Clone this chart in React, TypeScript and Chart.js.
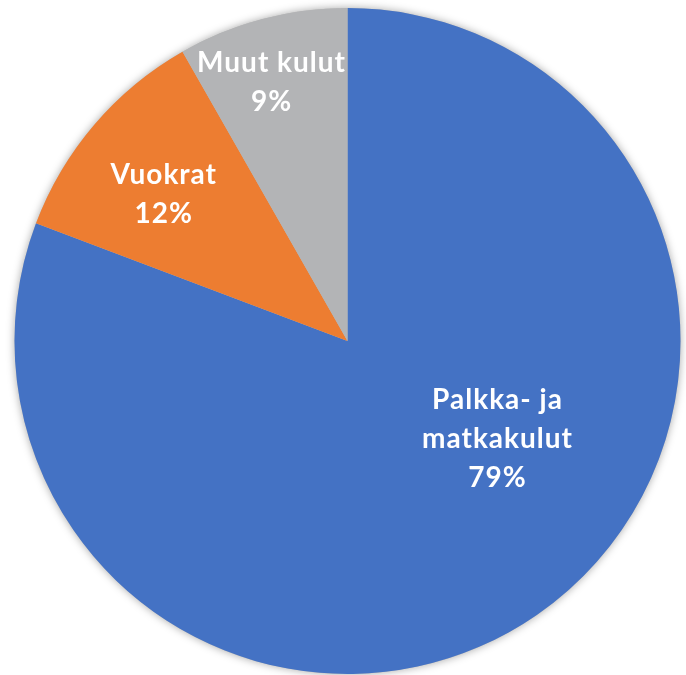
import React, { useEffect, useRef } from "react";
import { Chart, registerables } from "chart.js";

Chart.register(...registerables);

const categories = ["Palkka- ja matkakulut", "Vuokrat", "Muut kulut"];
const labelLines = [["Palkka- ja", "matkakulut", "79%"], ["Vuokrat", "12%"], ["Muut kulut", "9%"]];
const sliceValues = [80.75, 11.0, 8.25];
const colors = ["#4472C4", "#ED7D31", "#B3B4B6"];
// label placement: fraction of radius and angular shift (degrees)
const labelRadius = [0.538, 0.705, 0.81];
const labelShift = [-22.2, -2, -1.5];

const shadowPlugin = {
  id: "pieShadow",
  beforeDatasetsDraw(chart: any) {
    const meta = chart.getDatasetMeta(0);
    const arc = meta.data[0];
    if (!arc) return;
    const { x, y, outerRadius } = arc.getProps(["x", "y", "outerRadius"], true);
    const ctx = chart.ctx;
    ctx.save();
    ctx.shadowColor = "rgba(0,0,0,0.35)";
    ctx.shadowBlur = 9;
    ctx.beginPath();
    ctx.arc(x, y, outerRadius, 0, Math.PI * 2);
    ctx.fillStyle = "#bbbbbb";
    ctx.fill();
    ctx.restore();
  },
};

const labelPlugin = {
  id: "sliceLabels",
  afterDatasetsDraw(chart: any) {
    const meta = chart.getDatasetMeta(0);
    const ctx = chart.ctx;
    ctx.save();
    ctx.fillStyle = "#ffffff";
    ctx.font = "bold 28px Lato, 'DejaVu Sans', sans-serif";
    (ctx as any).letterSpacing = "1px";
    ctx.textAlign = "center";
    ctx.textBaseline = "middle";
    const lineH = 39;
    meta.data.forEach((arc: any, i: number) => {
      const { x, y, startAngle, endAngle, outerRadius } = arc.getProps(
        ["x", "y", "startAngle", "endAngle", "outerRadius"],
        true
      );
      const mid = (startAngle + endAngle) / 2 + (labelShift[i] * Math.PI) / 180;
      const r = outerRadius * labelRadius[i];
      const cx = x + Math.cos(mid) * r;
      const cy = y + Math.sin(mid) * r;
      const lines = labelLines[i];
      const top = cy - ((lines.length - 1) * lineH) / 2;
      lines.forEach((t, j) => ctx.fillText(t, cx, top + j * lineH));
    });
    ctx.restore();
  },
};

export default function App() {
  const ref = useRef<HTMLCanvasElement>(null);
  useEffect(() => {
    if (!ref.current) return;
    const chart = new Chart(ref.current, {
      type: "pie",
      data: {
        labels: categories,
        datasets: [
          {
            data: sliceValues,
            backgroundColor: colors,
            borderWidth: 0,
          },
        ],
      },
      options: {
        animation: false,
        responsive: true,
        maintainAspectRatio: false,
        layout: { padding: { left: 14.5, right: 5.5, top: 8, bottom: 1 } },
        plugins: { legend: { display: false }, tooltip: { enabled: false } },
      },
      plugins: [shadowPlugin, labelPlugin],
    });
    return () => chart.destroy();
  }, []);
  return (
    <div style={{ position: "absolute", left: 0, top: 0, width: 686, height: 675, background: "#fff" }}>
      <canvas ref={ref} />
    </div>
  );
}
